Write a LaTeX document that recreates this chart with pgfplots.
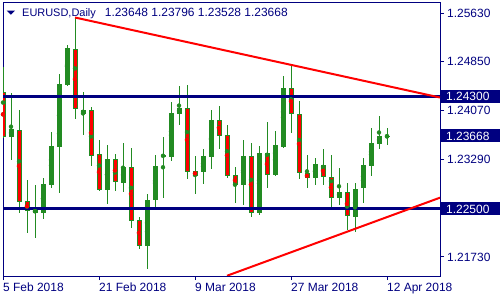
\documentclass[border=0pt]{standalone}
\usepackage{pgfplots}
\pgfplotsset{compat=1.18}
\usepackage{pgfplotstable}
\usepackage{fontspec}
\setmainfont{Liberation Sans}
\definecolor{navyc}{RGB}{0,0,128}
\definecolor{cgreen}{RGB}{34,139,34}
\definecolor{cred}{RGB}{255,0,0}

\pgfplotstableread{
i o h l c
0 1.24367 1.24772 1.23627 1.23653
1 1.23653 1.24347 1.23280 1.23776
2 1.23755 1.24080 1.22438 1.22614
3 1.22625 1.22961 1.22109 1.22460
4 1.22438 1.22881 1.22038 1.22492
5 1.22428 1.22988 1.22337 1.22897
6 1.22886 1.23728 1.22838 1.23504
7 1.23493 1.24655 1.22748 1.24495
8 1.24484 1.25123 1.24470 1.25071
9 1.25050 1.25561 1.23931 1.24100
10 1.24020 1.24372 1.23680 1.24080
11 1.24080 1.24128 1.23184 1.23349
12 1.23376 1.23600 1.22785 1.22801
13 1.22801 1.23520 1.22577 1.23296
14 1.23296 1.23376 1.22785 1.22934
15 1.22918 1.23547 1.22769 1.23169
16 1.23169 1.23477 1.22198 1.22310
17 1.22321 1.22374 1.21858 1.21911
18 1.21911 1.22737 1.21533 1.22641
19 1.22641 1.23360 1.22534 1.23184
20 1.23345 1.23653 1.22678 1.23352
21 1.23333 1.24207 1.23269 1.24027
22 1.24020 1.24463 1.23840 1.24112
23 1.24112 1.24479 1.22977 1.23093
24 1.23105 1.23349 1.22732 1.23029
25 1.23093 1.23456 1.22902 1.23349
26 1.23333 1.24080 1.23137 1.23920
27 1.23920 1.24144 1.23461 1.23669
28 1.23680 1.23840 1.22997 1.23029
29 1.23041 1.23173 1.22598 1.22876
30 1.22876 1.23600 1.22566 1.23349
31 1.23349 1.23557 1.22374 1.22428
32 1.22428 1.23504 1.22406 1.23388
33 1.23388 1.23893 1.22838 1.23045
34 1.23045 1.23749 1.23030 1.23520
35 1.23493 1.24623 1.23480 1.24431
36 1.24431 1.24783 1.23717 1.24011
37 1.24011 1.24223 1.22977 1.23068
38 1.23068 1.23360 1.22838 1.22988
39 1.22988 1.23312 1.22886 1.23216
40 1.23200 1.23456 1.22886 1.23013
41 1.23004 1.23360 1.22524 1.22678
42 1.22678 1.23157 1.22566 1.22769
43 1.22764 1.22913 1.22162 1.22390
44 1.22374 1.22913 1.22134 1.22817
45 1.22838 1.23312 1.22598 1.23200
46 1.23189 1.23797 1.23029 1.23547
47 1.23541 1.23984 1.23456 1.23664
48 1.23648 1.23796 1.23528 1.23668
}\candles

\begin{document}
\begin{tikzpicture}
\begin{axis}[
  scale only axis, width=437bp, height=273bp,
  xmin=0, xmax=54.625, ymin=1.21426, ymax=1.25790,
  axis line style={navyc, line width=1bp},
  ytick={1.2173,1.2329,1.2407,1.2485,1.2563},
  yticklabels={1.21730,1.23290,1.24070,1.24850,1.25630},
  ytick pos=right, xtick pos=left, tick align=outside,
  major tick length=4bp,
  tick style={navyc, line width=1bp},
  xtick={0,12,24,36,48},
  xticklabels={5 Feb 2018,21 Feb 2018,9 Mar 2018,27 Mar 2018,12 Apr 2018},
  ticklabel style={font=\fontsize{12}{12}\selectfont, text=navyc},
  xticklabel style={anchor=north west, inner sep=0pt, xshift=0bp, yshift=-3bp},
  yticklabel style={anchor=west, inner sep=0pt, xshift=3bp},
  extra y ticks={1.243,1.23668,1.225},
  extra y tick labels={1.24300,1.23668,1.22500},
  extra y tick style={major tick length=0pt, yticklabel style={fill=navyc, text=white, inner xsep=5bp, inner ysep=2bp, text width=50bp, text height=9bp, text depth=0bp, xshift=-2bp}},
]
% wicks
\addplot[cgreen, only marks, mark=none, error bars/.cd, y dir=both, y explicit, error mark=none,
  error bar style={draw=cgreen, line width=1bp}]
  table[x=i, y expr={(\thisrow{h}+\thisrow{l})/2}, y error expr={(\thisrow{h}-\thisrow{l})/2}] {\candles};
% bodies (outline / bull fill)
\addplot[cgreen, only marks, mark=none, error bars/.cd, y dir=both, y explicit, error mark=none,
  error bar style={draw=cgreen, line width=5bp}]
  table[x=i, y expr={(\thisrow{o}+\thisrow{c})/2}, y error expr={max(abs(\thisrow{o}-\thisrow{c})/2,0.00008)}] {\candles};
% bear fill
\addplot[cred, only marks, mark=none, restrict expr to domain={\thisrow{o}-\thisrow{c}}{0.00005:1},
  error bars/.cd, y dir=both, y explicit, error mark=none,
  error bar style={draw=cred, line width=3bp}]
  table[x=i, y expr={(\thisrow{o}+\thisrow{c})/2}, y error expr={max((\thisrow{o}-\thisrow{c})/2-0.00016,0.00004)}] {\candles};
% support / resistance
\addplot[navyc, line width=3bp] coordinates {(0,1.243) (54.625,1.243)};
\addplot[navyc, line width=3bp] coordinates {(0,1.225) (54.625,1.225)};
% trend lines
\addplot[cred, line width=2bp] coordinates {(9,1.25558) (54.625,1.24279)};
\addplot[cred, line width=2bp] coordinates {(28,1.21430) (54.625,1.22678)};
\end{axis}
\fill[navyc] ([shift={(3.7bp,-7.7bp)}]current axis.north west) -- ([shift={(12bp,-7.7bp)}]current axis.north west) -- ([shift={(7.85bp,-11.7bp)}]current axis.north west) -- cycle;
\node[anchor=base west, inner sep=0pt, text=navyc] at ([shift={(19bp,-14bp)}]current axis.north west)
  {\fontsize{11}{11}\selectfont EURUSD,Daily\hspace{9bp}\fontsize{12}{12}\selectfont 1.23648 1.23796 1.23528 1.23668};
\pgfresetboundingbox
\path[use as bounding box] ([shift={(-3bp,-24bp)}]current axis.south west) rectangle ([shift={(60bp,3bp)}]current axis.north east);
\end{tikzpicture}
\end{document}
